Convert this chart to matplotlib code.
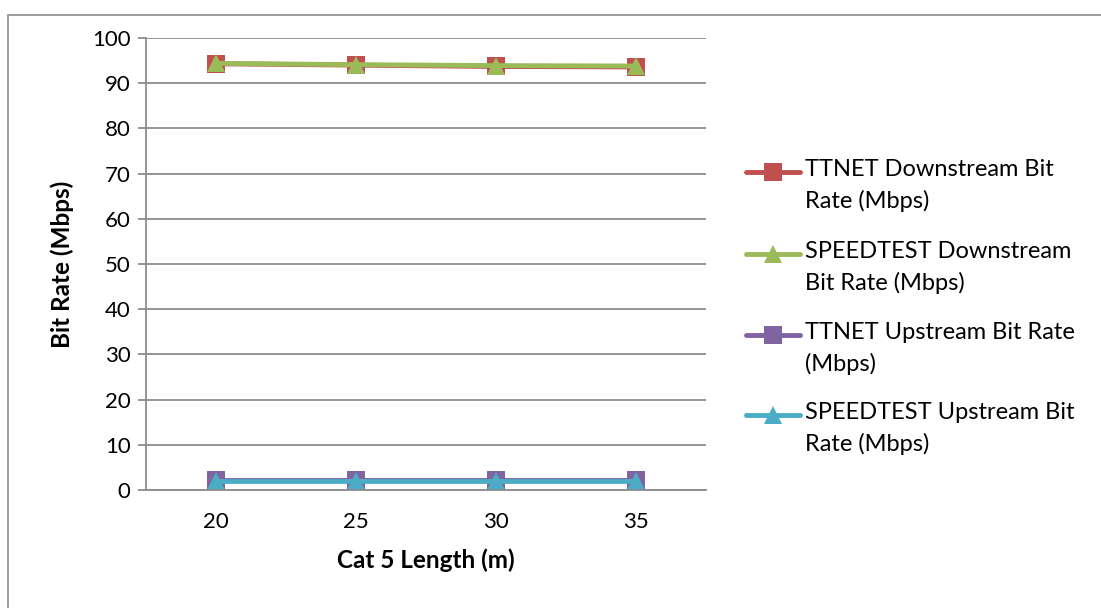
import matplotlib
matplotlib.use("Agg")
import matplotlib.pyplot as plt
import matplotlib.patches as patches
from matplotlib.lines import Line2D

plt.rcParams['font.family'] = ['Lato', 'DejaVu Sans']

# cable length categories (m)
lengths = ["20", "25", "30", "35"]

ttnet_down = [94.3, 94.0, 93.7, 93.6]
speedtest_down = [94.4, 94.1, 93.9, 93.8]
ttnet_up = [2.2, 2.2, 2.2, 2.2]
speedtest_up = [2.0, 2.0, 2.0, 2.0]

labels = ["TTNET Downstream Bit\nRate (Mbps)",
          "SPEEDTEST Downstream\nBit Rate (Mbps)",
          "TTNET Upstream Bit Rate\n(Mbps)",
          "SPEEDTEST Upstream Bit\nRate (Mbps)"]

W, H = 1101, 608
fig = plt.figure(figsize=(W / 100, H / 100), dpi=100)
ax = fig.add_axes([146 / W, 1 - 490 / H, 560 / W, 452 / H])

# outer chart border
fig.patches.append(patches.Rectangle((8 / W, -0.05), 1.2, 1 - 15 / H + 0.05,
                                     transform=fig.transFigure, fill=False,
                                     edgecolor='#8c8c8c', lw=1.2))

x = list(range(len(lengths)))
series = [
    (ttnet_down, '#C0504D', 's'),
    (speedtest_down, '#9BBB59', '^'),
    (ttnet_up, '#8064A2', 's'),
    (speedtest_up, '#4BACC6', '^'),
]
for vals, c, m in series:
    ax.plot(x, vals, color=c, lw=3.5, marker=m, markersize=13,
            markeredgewidth=0, solid_capstyle='round')

ax.set_xlim(-0.5, 3.5)
ax.set_ylim(0, 100)
ax.set_yticks(range(0, 101, 10))
ax.set_xticks(x)
ax.set_xticklabels(lengths)
ax.yaxis.grid(True, color='#8c8c8c', lw=1.3)
ax.set_axisbelow(True)
for s in ['top', 'right']:
    ax.spines[s].set_visible(False)
for s in ['left', 'bottom']:
    ax.spines[s].set_color('#8c8c8c')
    ax.spines[s].set_linewidth(1.3)
ax.tick_params(axis='y', length=6, color='#8c8c8c', width=1.3, labelsize=16, pad=5)
ax.tick_params(axis='x', length=0, labelsize=16, pad=16)

ax.set_xlabel("Cat 5 Length (m)", fontsize=17.5, fontweight='bold', labelpad=12)
ax.set_ylabel("Bit Rate (Mbps)", fontsize=17.5, fontweight='bold')
ax.yaxis.set_label_coords((74 - 146) / 560, 0.5)

# legend drawn by hand so the handle sits on the first text line
rows_y = [172, 254, 335, 415]
for (vals, c, m), lab, py in zip(series, labels, rows_y):
    fy = 1 - py / H
    fig.add_artist(Line2D([746 / W, 800 / W], [fy, fy], color=c, lw=3.5,
                          solid_capstyle='round', transform=fig.transFigure))
    fig.add_artist(Line2D([773 / W], [fy], color=c, marker=m, markersize=13,
                          markeredgewidth=0, transform=fig.transFigure))
    fig.text(805 / W, 1 - (py - 13) / H, lab, fontsize=17, va='top', ha='left',
             linespacing=1.55)

fig.savefig("out.png", dpi=100)
